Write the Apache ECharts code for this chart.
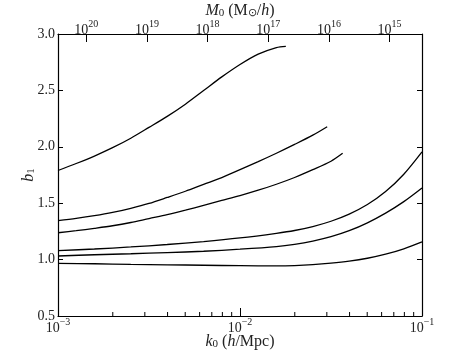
<!DOCTYPE html>
<html><head><meta charset="utf-8">
<script src="https://cdn.jsdelivr.net/npm/echarts@6/dist/echarts.min.js"></script>
<style>html,body{margin:0;padding:0;background:#fff}#c{width:469px;height:352px}</style>
</head><body><div id="c"></div>
<script>
// ---- data (k0 in h/Mpc, b1) ----
const k1 = [0.001, 0.001259, 0.001585, 0.001995, 0.002512, 0.003162, 0.003981, 0.005012, 0.00631, 0.007943, 0.01, 0.01259, 0.01585, 0.01786];
const b1 = [1.790, 1.852, 1.918, 1.992, 2.076, 2.172, 2.270, 2.378, 2.499, 2.620, 2.730, 2.822, 2.880, 2.891];
const k2 = [0.001, 0.001259, 0.001585, 0.001995, 0.002512, 0.003162, 0.003981, 0.005012, 0.00631, 0.007943, 0.01, 0.01259, 0.01585, 0.01995, 0.02512, 0.03013];
const b2 = [1.345, 1.365, 1.389, 1.418, 1.455, 1.498, 1.551, 1.606, 1.667, 1.727, 1.798, 1.869, 1.943, 2.021, 2.103, 2.178];
const k3 = [0.001, 0.001259, 0.001585, 0.001995, 0.002512, 0.003162, 0.003981, 0.005012, 0.00631, 0.007943, 0.01, 0.01259, 0.01585, 0.01995, 0.02512, 0.03162, 0.03664];
const b3 = [1.238, 1.256, 1.277, 1.300, 1.329, 1.364, 1.398, 1.438, 1.481, 1.524, 1.567, 1.615, 1.668, 1.728, 1.797, 1.872, 1.942];
const kLow = [0.001, 0.001585, 0.002512, 0.003981, 0.00631, 0.01, 0.01585, 0.01995, 0.02512, 0.03162, 0.03981, 0.05012, 0.0631, 0.07943, 0.1];
const b4 = [1.079, 1.094, 1.112, 1.134, 1.160, 1.192, 1.233, 1.258, 1.293, 1.340, 1.403, 1.488, 1.603, 1.757, 1.955];
const b5 = [1.032, 1.043, 1.052, 1.062, 1.074, 1.092, 1.115, 1.135, 1.164, 1.203, 1.256, 1.326, 1.412, 1.514, 1.635];
const b6 = [0.967, 0.963, 0.957, 0.954, 0.950, 0.946, 0.944, 0.947, 0.955, 0.968, 0.986, 1.012, 1.048, 1.096, 1.157];

// axis ranges / ticks
const kMin = 0.001, kMax = 0.1;
const bMin = 0.5, bMax = 3.0, bStep = 0.5;
const mLogLeft = 20.465, mLogRight = 14.465; // log10 M0 at k0 = 1e-3 and 1e-1
const minorK = [0.002,0.003,0.004,0.005,0.006,0.007,0.008,0.009,0.02,0.03,0.04,0.05,0.06,0.07,0.08,0.09];

const FONT = '"Liberation Serif", "Times New Roman", serif';
const TXT = '#222';
const rich = {
  b: {fontSize: 14, fontFamily: FONT, color: TXT, verticalAlign: 'bottom', lineHeight: 18},
  s: {fontSize: 10, fontFamily: FONT, color: TXT, verticalAlign: 'top', lineHeight: 10}
};
function powLabel(v) {
  const l = Math.log10(v);
  const e = Math.round(l);
  if (Math.abs(l - e) > 1e-6) return '';
  return '{b|10}{s|' + (e < 0 ? '\u2212' + (-e) : e) + '}';
}
const nameRich = {
  i: {fontSize: 16, fontFamily: FONT, fontStyle: 'italic', color: TXT, verticalAlign: 'bottom', lineHeight: 20},
  t: {fontSize: 16, fontFamily: FONT, color: TXT, verticalAlign: 'bottom', lineHeight: 20},
  u: {fontSize: 11, fontFamily: FONT, color: TXT, verticalAlign: 'bottom', lineHeight: 14}
};
const lineStyleAx = {color: '#000', width: 1.2};

function mk(k, b) { return k.map((x, i) => [x, b[i]]); }
const curves = [mk(k1,b1), mk(k2,b2), mk(k3,b3), mk(kLow,b4), mk(kLow,b5), mk(kLow,b6)];

const chart = echarts.init(document.getElementById('c'), null, {renderer: 'canvas'});
chart.setOption({
  animation: false,
  backgroundColor: '#fff',
  grid: {left: 58, right: 47, top: 34, bottom: 36, containLabel: false, outerBoundsMode: 'none'},
  xAxis: [
    {
      type: 'log', logBase: 10, min: kMin, max: kMax, position: 'bottom',
      axisLine: {show: true, onZero: false, lineStyle: lineStyleAx},
      axisTick: {show: true, inside: true, length: 8, lineStyle: {color: '#000', width: 1}},
      splitLine: {show: false},
      axisLabel: {margin: 1, formatter: powLabel, rich: rich},
      name: '{i|k}{u|0}{t| (}{i|h}{t|/Mpc)}',
      nameLocation: 'middle', nameGap: 14, nameMoveOverlap: false,
      nameTextStyle: {rich: nameRich}
    },
    {
      type: 'log', logBase: 10, min: Math.pow(10, mLogRight), max: Math.pow(10, mLogLeft),
      inverse: true, position: 'top', splitNumber: 6,
      axisLine: {show: true, onZero: false, lineStyle: lineStyleAx},
      axisTick: {show: true, inside: true, length: 8, lineStyle: {color: '#000', width: 1}},
      splitLine: {show: false},
      axisLabel: {margin: -3, formatter: powLabel, rich: rich, showMinLabel: false, showMaxLabel: false},
      name: '{i|M}{u|0}{t| (M}{u|\u2299}{t|/}{i|h}{t|)}',
      nameLocation: 'middle', nameGap: 15, nameMoveOverlap: false,
      nameTextStyle: {rich: nameRich}
    }
  ],
  yAxis: [
    {
      type: 'value', min: bMin, max: bMax, interval: bStep, position: 'left',
      axisLine: {show: true, onZero: false, lineStyle: lineStyleAx},
      axisTick: {show: true, inside: true, length: 5, lineStyle: {color: '#000', width: 1}},
      splitLine: {show: false},
      axisLabel: {margin: 3, fontSize: 14, fontFamily: FONT, color: TXT, formatter: v => v.toFixed(1)},
      name: '{i|b}{u|1}', nameLocation: 'middle', nameGap: 21, nameRotate: 90, nameMoveOverlap: false,
      nameTextStyle: {rich: nameRich}
    },
    {
      type: 'value', min: bMin, max: bMax, interval: bStep, position: 'right',
      axisLine: {show: true, onZero: false, lineStyle: lineStyleAx},
      axisTick: {show: true, inside: true, length: 5, lineStyle: {color: '#000', width: 1}},
      splitLine: {show: false},
      axisLabel: {show: false}
    }
  ],
  series: curves.map(d => ({
    type: 'line', data: d, xAxisIndex: 0, yAxisIndex: 0,
    showSymbol: false, symbol: 'none', smooth: 0.3,
    lineStyle: {color: '#000', width: 1.3}, silent: true
  })).concat([{
    type: 'custom', xAxisIndex: 0, yAxisIndex: 0, silent: true, clip: false, z: 5,
    data: minorK.map(k => [k, bMin]),
    renderItem: (params, api) => {
      const p = api.coord([api.value(0), api.value(1)]);
      return {type: 'line', shape: {x1: p[0], y1: p[1], x2: p[0], y2: p[1] - 4},
              style: {stroke: '#000', lineWidth: 1}};
    }
  }])
});
</script>
</body></html>
